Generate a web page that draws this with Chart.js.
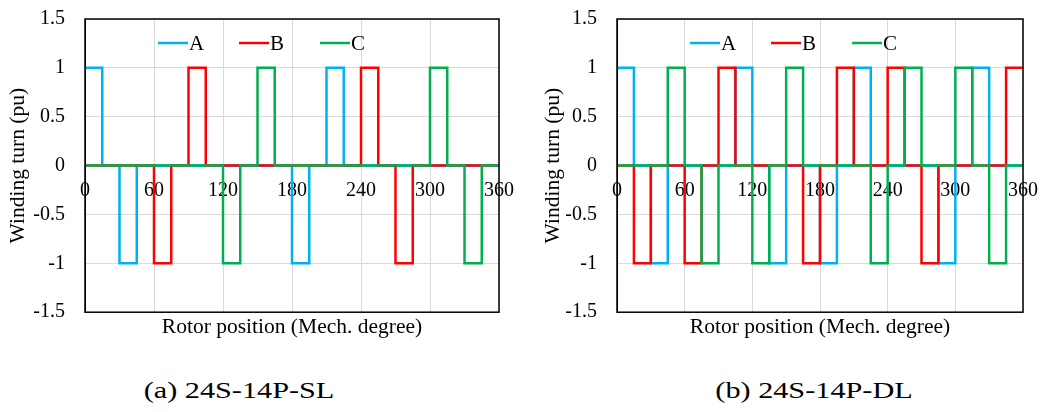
<!DOCTYPE html>
<html>
<head>
<meta charset="utf-8">
<script src="https://cdn.jsdelivr.net/npm/chart.js@4/dist/chart.umd.min.js"></script>
<style>
  body { margin: 0; background: #fff; }
  #page { position: relative; width: 1049px; height: 412px; background: #fff; font-family: "Liberation Serif", "Times New Roman", serif; }
  .box { position: absolute; top: 0; height: 350px; }
  .caption { position: absolute; top: 376px; font-size: 24px; line-height: 28px; color: #000; white-space: nowrap; transform: translateX(-50%) scaleX(1.26); }
</style>
</head>
<body>
<div id="page">
  <div class="box" style="left:0; width:520px;"><canvas id="chartSL"></canvas></div>
  <div class="box" style="left:520px; width:529px;"><canvas id="chartDL"></canvas></div>
  <div class="caption" style="left:239px;">(a) 24S-14P-SL</div>
  <div class="caption" style="left:814px;">(b) 24S-14P-DL</div>
</div>
<script>
// rotor position of each slot edge (mech. degree)
const rotorPos = [0, 15, 30, 45, 60, 75, 90, 105, 120, 135, 150, 165, 180, 195, 210, 225, 240, 255, 270, 285, 300, 315, 330, 345, 360];
const xTicks = [0, 60, 120, 180, 240, 300, 360];
const yTicks = [-1.5, -1, -0.5, 0, 0.5, 1, 1.5];
const phaseNames = ['A', 'B', 'C'];
const phaseColors = ['#00B0F0', '#FF0000', '#00B050'];

// winding turn (pu), value held from this position until the next one
const slA = [1, 0, -1, 0, 0, 0, 0, 0, 0, 0, 0, 0, -1, 0, 1, 0, 0, 0, 0, 0, 0, 0, 0, 0, 0];
const slB = [0, 0, 0, 0, -1, 0, 1, 0, 0, 0, 0, 0, 0, 0, 0, 0, 1, 0, -1, 0, 0, 0, 0, 0, 0];
const slC = [0, 0, 0, 0, 0, 0, 0, 0, -1, 0, 1, 0, 0, 0, 0, 0, 0, 0, 0, 0, 1, 0, -1, 0, 0];

const dlA = [1, 0, -1, 0, 0, 0, 0, 1, 0, -1, 0, 0, -1, 0, 1, 0, 0, 0, 0, -1, 0, 1, 0, 0, 0];
const dlB = [0, -1, 0, 0, -1, 0, 1, 0, 0, 0, 0, -1, 0, 1, 0, 0, 1, 0, -1, 0, 0, 0, 0, 1, 1];
const dlC = [0, 0, 0, 1, 0, -1, 0, 0, -1, 0, 1, 0, 0, 0, 0, -1, 0, 1, 0, 0, 1, 0, -1, 0, 0];

const FONT = "'Liberation Serif', 'Times New Roman', serif";

// black frame round the plot area
const framePlugin = {
    id: 'frame',
    afterDraw(chart) {
        const a = chart.chartArea;
        const ctx = chart.ctx;
        ctx.save();
        ctx.strokeStyle = '#000';
        ctx.lineWidth = 1.5;
        ctx.strokeRect(a.left, a.top, a.right - a.left, a.bottom - a.top);
        ctx.restore();
    }
};

// legend drawn inside the plot, like the excel one
const innerLegend = {
    id: 'innerLegend',
    afterDraw(chart) {
        const a = chart.chartArea;
        const ctx = chart.ctx;
        ctx.save();
        ctx.font = '21px ' + FONT;
        ctx.textBaseline = 'middle';
        ctx.fillStyle = '#000';
        const y = a.top + 24;
        chart.data.datasets.forEach((ds, i) => {
            const x = a.left + 73 + i * 81;
            ctx.strokeStyle = ds.borderColor;
            ctx.lineWidth = 2.5;
            ctx.beginPath();
            ctx.moveTo(x, y);
            ctx.lineTo(x + 30, y);
            ctx.stroke();
            ctx.fillText(ds.label, x + 31, y + 1);
        });
        ctx.restore();
    }
};

function noPad(s) {
    s.paddingLeft = 0;
    s.paddingRight = 0;
    s.paddingTop = 0;
    s.paddingBottom = 0;
}

function makeChart(id, series, pad, yWidth) {
    const datasets = series.map((vals, i) => ({
        label: phaseNames[i],
        data: rotorPos.map((p, k) => ({ x: p, y: vals[k] })),
        borderColor: phaseColors[i],
        backgroundColor: phaseColors[i],
        borderWidth: 2.5,
        pointRadius: 0,
        stepped: true,
        fill: false,
        order: 3 - i
    }));

    const ctx = document.getElementById(id).getContext('2d');
    return new Chart(ctx, {
        type: 'line',
        data: { datasets: datasets },
        options: {
            responsive: true,
            maintainAspectRatio: false,
            animation: false,
            layout: { padding: pad },
            plugins: {
                legend: { display: false },
                tooltip: { enabled: false }
            },
            scales: {
                x: {
                    type: 'linear',
                    position: { y: 0 },
                    min: 0,
                    max: 360,
                    afterBuildTicks: s => { s.ticks = xTicks.map(v => ({ value: v })); },
                    afterFit: noPad,
                    grid: { color: '#d9d9d9', lineWidth: 1, drawTicks: false },
                    border: { display: true, color: '#bfbfbf' },
                    ticks: { color: '#000', padding: 13, maxRotation: 0, font: { family: FONT, size: 20 } }
                },
                xTitle: {
                    type: 'linear',
                    position: 'bottom',
                    axis: 'x',
                    min: 0,
                    max: 360,
                    afterFit: noPad,
                    grid: { display: false, drawTicks: false },
                    border: { display: false },
                    ticks: { display: false },
                    title: {
                        display: true,
                        text: 'Rotor position (Mech. degree)',
                        color: '#000',
                        padding: { top: 2, bottom: 0 },
                        font: { family: FONT, size: 21.5 }
                    }
                },
                y: {
                    min: -1.5,
                    max: 1.5,
                    afterBuildTicks: s => { s.ticks = yTicks.map(v => ({ value: v })); },
                    afterFit: s => { noPad(s); s.width = yWidth; },
                    grid: { color: '#d9d9d9', lineWidth: 1, drawTicks: false },
                    border: { display: true, color: '#000' },
                    ticks: {
                        color: '#000',
                        padding: 20,
                        font: { family: FONT, size: 20 },
                        callback: v => String(v)
                    },
                    title: {
                        display: true,
                        text: 'Winding turn (pu)',
                        color: '#000',
                        padding: { top: 5, bottom: 0 },
                        font: { family: FONT, size: 21.5 }
                    }
                }
            }
        },
        plugins: [framePlugin, innerLegend]
    });
}

makeChart('chartSL', [slA, slB, slC], { left: 0, right: 21, top: 19, bottom: 10 }, 85);
makeChart('chartDL', [dlA, dlB, dlC], { left: 15, right: 26, top: 19, bottom: 10 }, 82);
</script>
</body>
</html>
